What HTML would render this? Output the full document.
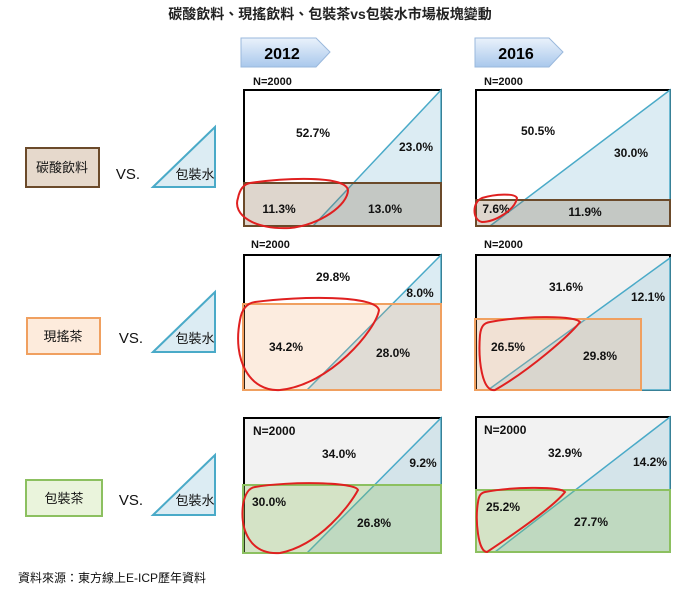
<!DOCTYPE html><html><head><meta charset="utf-8"><style>body{margin:0;background:#fff}svg{display:block}text{font-family:"Liberation Sans","Noto Sans CJK TC",sans-serif}</style></head><body>
<svg width="700" height="590" viewBox="0 0 700 590" xmlns="http://www.w3.org/2000/svg">
<defs><linearGradient id="g" x1="0" y1="0" x2="0" y2="1"><stop offset="0" stop-color="#eaf2fb"/><stop offset="1" stop-color="#a9c8ec"/></linearGradient></defs>
<text x="330" y="19" font-size="14" text-anchor="middle" font-weight="bold" fill="#222">碳酸飲料、現搖飲料、包裝茶vs包裝水市場板塊變動</text>
<path d="M241 38H316L330 52L316 67H241Z" fill="url(#g)" stroke="#9ab8dc"/>
<text x="282" y="59" font-size="16" font-weight="bold" text-anchor="middle">2012</text>
<path d="M475 38H549L563 52L549 67H475Z" fill="url(#g)" stroke="#9ab8dc"/>
<text x="516" y="59" font-size="16" font-weight="bold" text-anchor="middle">2016</text>
<g font-size="11" font-weight="bold" fill="#111">
<text x="253" y="85">N=2000</text>
<text x="484" y="85">N=2000</text>
<text x="251" y="248">N=2000</text>
<text x="484" y="248">N=2000</text>
</g>
<g font-size="12" font-weight="bold" fill="#111">
<!-- row1 2012 -->
<rect x="244" y="90" width="197" height="136" fill="#fff" stroke="#000" stroke-width="2"/>
<polygon points="313,226 441,90 441,226" fill="#dcecf3" stroke="#4aaac8" stroke-width="1.5"/>
<rect x="244" y="183" width="197" height="43" fill="#8a6a4a" fill-opacity="0.28" stroke="#6b4a2a" stroke-width="2"/>
<text x="313" y="137" text-anchor="middle">52.7%</text><text x="416" y="151" text-anchor="middle">23.0%</text>
<text x="279" y="213" text-anchor="middle">11.3%</text><text x="385" y="213" text-anchor="middle">13.0%</text>
<path d="M250 183C285 178 345 175 348 190C348 205 320 225 290 228C255 230 232 215 238 198C240 188 245 184 250 183Z" fill="none" stroke="#e02020" stroke-width="2"/>
<!-- row1 2016 -->
<rect x="476" y="90" width="194" height="136" fill="#fff" stroke="#000" stroke-width="2"/>
<polygon points="490,226 670,90 670,226" fill="#dcecf3" stroke="#4aaac8" stroke-width="1.5"/>
<rect x="476" y="200" width="194" height="26" fill="#8a6a4a" fill-opacity="0.28" stroke="#6b4a2a" stroke-width="2"/>
<text x="538" y="135" text-anchor="middle">50.5%</text><text x="631" y="157" text-anchor="middle">30.0%</text>
<text x="496" y="213" text-anchor="middle">7.6%</text><text x="585" y="216" text-anchor="middle">11.9%</text>
<path d="M482 198C495 194 515 193 517 198C515 210 495 222 482 222C472 220 472 202 482 198Z" fill="none" stroke="#e02020" stroke-width="2"/>
<!-- row2 2012 -->
<rect x="244" y="255" width="197" height="135" fill="#fff" stroke="#000" stroke-width="2"/>
<polygon points="307,390 441,255 441,390" fill="#dcecf3" stroke="#4aaac8" stroke-width="1.5"/>
<rect x="243" y="304" width="198" height="86" fill="#f0a060" fill-opacity="0.2" stroke="#f0a060" stroke-width="2"/>
<text x="333" y="281" text-anchor="middle">29.8%</text><text x="420" y="297" text-anchor="middle">8.0%</text>
<text x="286" y="351" text-anchor="middle">34.2%</text><text x="393" y="357" text-anchor="middle">28.0%</text>
<path d="M255 302C300 296 375 295 379 310C376 330 330 385 280 390C250 392 232 360 240 320C242 308 248 303 255 302Z" fill="none" stroke="#e02020" stroke-width="2"/>
<!-- row2 2016 -->
<rect x="476" y="255" width="194" height="135" fill="#f2f2f2" stroke="#000" stroke-width="2"/>
<polygon points="488,390 670,258 670,390" fill="#d4e4ea" stroke="#4aaac8" stroke-width="1.5"/>
<rect x="475" y="319" width="166" height="71" fill="#f0a060" fill-opacity="0.2" stroke="#f0a060" stroke-width="2"/>
<text x="566" y="291" text-anchor="middle">31.6%</text><text x="648" y="301" text-anchor="middle">12.1%</text>
<text x="508" y="351" text-anchor="middle">26.5%</text><text x="600" y="360" text-anchor="middle">29.8%</text>
<path d="M490 322C520 316 575 315 580 322C570 335 530 370 495 390C482 392 478 360 480 335C481 326 484 323 490 322Z" fill="none" stroke="#e02020" stroke-width="2"/>
<!-- row3 2012 -->
<rect x="244" y="418" width="197" height="135" fill="#f2f2f2" stroke="#000" stroke-width="2"/>
<polygon points="307,553 441,418 441,553" fill="#d4e4ea" stroke="#4aaac8" stroke-width="1.5"/>
<rect x="243" y="485" width="198" height="68" fill="#90c060" fill-opacity="0.3" stroke="#8cc060" stroke-width="2"/>
<text x="253" y="435">N=2000</text>
<text x="339" y="458" text-anchor="middle">34.0%</text><text x="423" y="467" text-anchor="middle">9.2%</text>
<text x="269" y="506" text-anchor="middle">30.0%</text><text x="374" y="527" text-anchor="middle">26.8%</text>
<path d="M255 487C290 481 355 482 358 490C350 505 320 545 280 553C250 555 240 530 243 505C245 493 249 488 255 487Z" fill="none" stroke="#e02020" stroke-width="2"/>
<!-- row3 2016 -->
<rect x="476" y="417" width="194" height="135" fill="#f2f2f2" stroke="#000" stroke-width="2"/>
<polygon points="495,552 670,417 670,552" fill="#d4e4ea" stroke="#4aaac8" stroke-width="1.5"/>
<rect x="476" y="490" width="194" height="62" fill="#90c060" fill-opacity="0.3" stroke="#8cc060" stroke-width="2"/>
<text x="484" y="434">N=2000</text>
<text x="565" y="457" text-anchor="middle">32.9%</text><text x="650" y="466" text-anchor="middle">14.2%</text>
<text x="503" y="511" text-anchor="middle">25.2%</text><text x="591" y="526" text-anchor="middle">27.7%</text>
<path d="M485 492C510 487 560 486 565 492C555 505 520 530 487 552C478 552 475 520 478 502C479 495 481 493 485 492Z" fill="none" stroke="#e02020" stroke-width="2"/>
</g>
<g font-size="13" fill="#111">
<rect x="26" y="148" width="73" height="39" fill="#e6d9cc" stroke="#6b4a2a" stroke-width="2"/><text x="62" y="172" text-anchor="middle">碳酸飲料</text>
<text x="128" y="179" font-size="15" text-anchor="middle">VS.</text>
<polygon points="153,187 215,127 215,187" fill="#dcecf3" stroke="#4aaac8" stroke-width="2"/><text x="195" y="179" text-anchor="middle">包裝水</text>
<rect x="27" y="318" width="73" height="36" fill="#fdebdc" stroke="#f0a060" stroke-width="2"/><text x="63" y="341" text-anchor="middle">現搖茶</text>
<text x="131" y="343" font-size="15" text-anchor="middle">VS.</text>
<polygon points="153,352 215,292 215,352" fill="#dcecf3" stroke="#4aaac8" stroke-width="2"/><text x="195" y="343" text-anchor="middle">包裝水</text>
<rect x="26" y="480" width="76" height="36" fill="#eaf4dc" stroke="#8cc060" stroke-width="2"/><text x="64" y="503" text-anchor="middle">包裝茶</text>
<text x="131" y="505" font-size="15" text-anchor="middle">VS.</text>
<polygon points="153,515 215,455 215,515" fill="#dcecf3" stroke="#4aaac8" stroke-width="2"/><text x="195" y="505" text-anchor="middle">包裝水</text>
</g>
<text x="18" y="582" font-size="12" fill="#111">資料來源：東方線上E-ICP歷年資料</text>
</svg></body></html>
